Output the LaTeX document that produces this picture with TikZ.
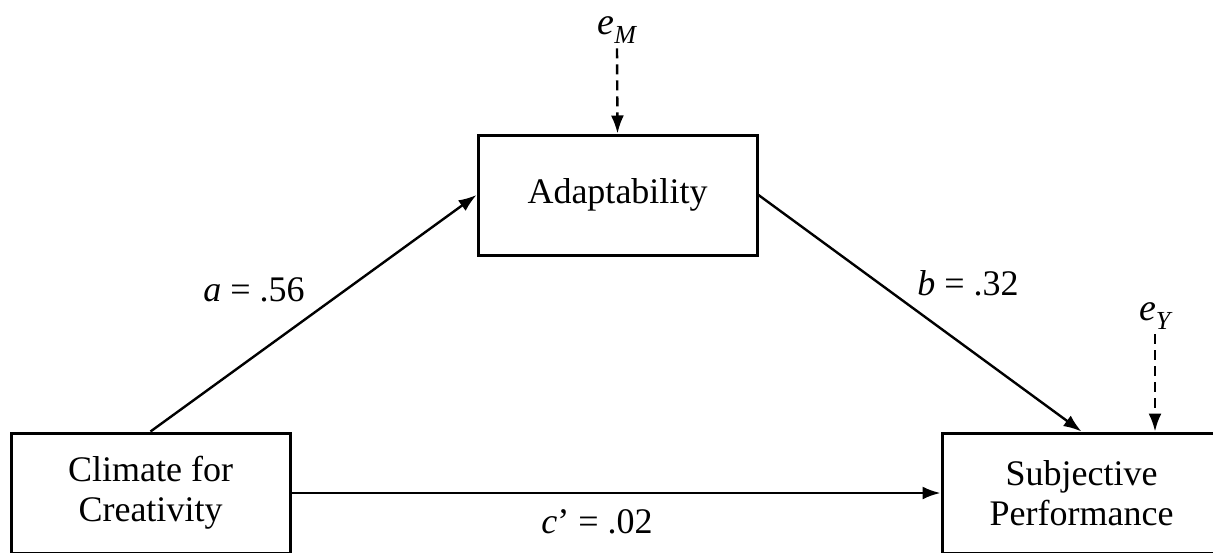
\documentclass[tikz,border=0pt]{standalone}
\usepackage{fontspec}
\setmainfont{Liberation Serif}
\usetikzlibrary{arrows.meta}
\begin{document}
\begin{tikzpicture}[x=1pt,y=1pt,
  box/.style={draw,line width=3pt,minimum width=279pt,minimum height=120pt,align=center,inner sep=0pt,
    font=\fontsize{36}{40}\selectfont},
  lab/.style={font=\fontsize{36}{40}\selectfont,inner sep=0pt},
  err/.style={font=\fontsize{38}{42}\selectfont\itshape,inner sep=0pt},
  path/.style={line width=2.4pt,-{Latex[length=18pt,width=13pt]}},
  epath/.style={line width=2.4pt,dash pattern=on 10pt off 6pt,-{Latex[length=18pt,width=13pt]}}]
\useasboundingbox (0,0) rectangle (1213,-552);
\clip (0,0) rectangle (1213,-552);
\node[box] (adapt) at (617.5,-195) {Adaptability};
\node[box] (climate) at (150.5,-493) {Climate for\\Creativity};
\node[box] (subj) at (1081.5,-493) {Subjective\\Performance};
\node[err] (eM) at (617,-30) {e\textsubscript{\fontsize{26}{30}\selectfont M}};
\node[err] (eY) at (1155,-316) {e\textsubscript{\fontsize{26}{30}\selectfont Y}};
\coordinate (eYend) at ([xshift=73.5pt]subj.north);
\draw[path] (climate.north) -- (adapt.west);
\draw[path] (adapt.east) -- (subj.north);
\draw[path] (climate.east) -- (subj.west);
\draw[epath] ([yshift=-5pt]eM.south) -- (adapt.north);
\draw[epath] ([yshift=-5pt]eY.south) -- (eYend);
\node[lab] (la) at (254,-290) {\textit{a} = .56};
\node[lab] (lb) at (968,-283) {\textit{b} = .32};
\node[lab] (lc) at (597,-522) {\textit{c}’ = .02};
\end{tikzpicture}
\end{document}
